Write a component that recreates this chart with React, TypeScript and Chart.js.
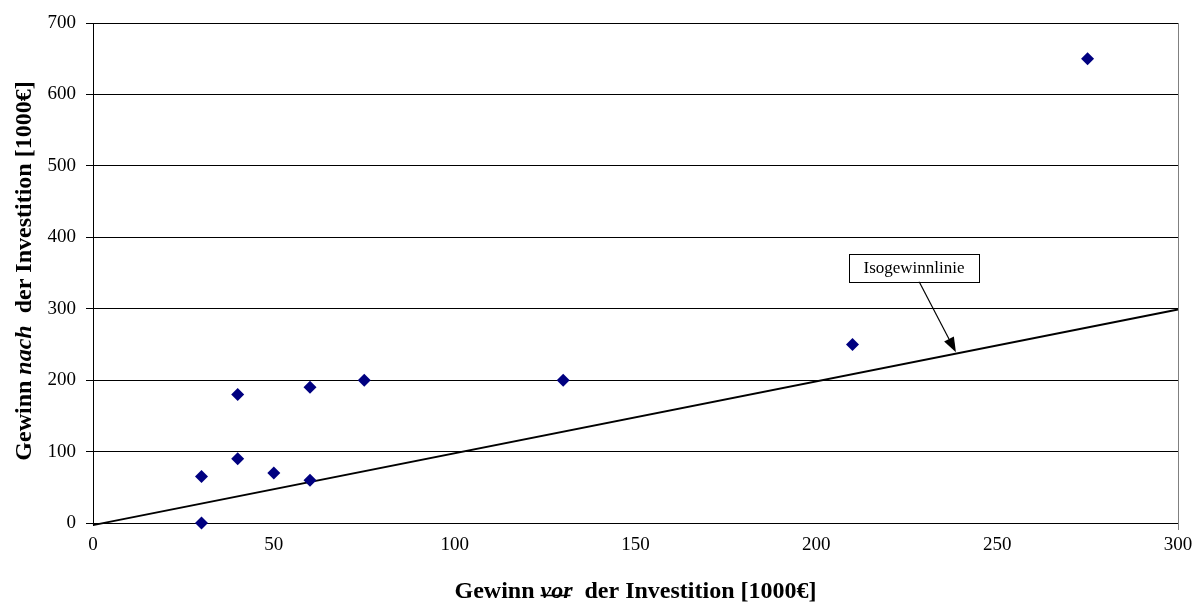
import React, { useEffect, useRef } from "react";
import { Chart, registerables } from "chart.js";

Chart.register(...registerables);

const xValues = [30, 30, 40, 40, 50, 60, 60, 75, 130, 210, 275];
const yValues = [65, 0, 180, 90, 70, 190, 60, 200, 200, 250, 650];
const isoLineX = [0, 300];
const isoLineY = [-3, 299];
const xTickValues = [0, 50, 100, 150, 200, 250, 300];
const yTickValues = [0, 100, 200, 300, 400, 500, 600, 700];
const annotationText = "Isogewinnlinie";

const W = 1196;
const H = 608;
const SERIF = '"Liberation Serif", "Times New Roman", serif';

function drawMixed(ctx: CanvasRenderingContext2D, parts: { t: string; f: string; strike?: boolean }[], cx: number, baseY: number) {
  let total = 0;
  const widths = parts.map((p) => {
    ctx.font = p.f;
    const w = ctx.measureText(p.t).width;
    total += w;
    return w;
  });
  let x = cx - total / 2;
  ctx.textBaseline = "alphabetic";
  ctx.textAlign = "left";
  parts.forEach((p, i) => {
    ctx.font = p.f;
    ctx.fillStyle = "#000";
    ctx.fillText(p.t, x, baseY);
    if (p.strike) {
      ctx.strokeStyle = "#000";
      ctx.lineWidth = 1.5;
      ctx.beginPath();
      ctx.moveTo(x, baseY - 2.5);
      ctx.lineTo(x + widths[i] - 2, baseY - 2.5);
      ctx.stroke();
    }
    x += widths[i];
  });
}

const customPlugin = {
  id: "custom",
  afterDraw(chart: any) {
    const ctx: CanvasRenderingContext2D = chart.ctx;
    const xs = chart.scales.x;
    const ys = chart.scales.y;
    const area = chart.chartArea;
    ctx.save();
    // right border gray
    ctx.strokeStyle = "#808080";
    ctx.lineWidth = 1;
    ctx.beginPath();
    ctx.moveTo(Math.round(area.right) + 0.5, area.top);
    ctx.lineTo(Math.round(area.right) + 0.5, area.bottom + 7);
    ctx.stroke();
    // y axis slight extension below
    ctx.strokeStyle = "#000";
    ctx.beginPath();
    ctx.moveTo(Math.round(area.left) + 0.5, area.bottom);
    ctx.lineTo(Math.round(area.left) + 0.5, area.bottom + 3);
    ctx.stroke();

    // annotation
    const bx1 = xs.getPixelForValue(209);
    const bx2 = xs.getPixelForValue(245);
    const by1 = ys.getPixelForValue(377);
    const by2 = ys.getPixelForValue(338);
    const ax1 = xs.getPixelForValue(228.4);
    const ay1 = by2;
    const ax2 = xs.getPixelForValue(238.6);
    const ay2 = ys.getPixelForValue(239);
    ctx.strokeStyle = "#000";
    ctx.lineWidth = 1.2;
    const ang = Math.atan2(ay2 - ay1, ax2 - ax1);
    const headLen = 15;
    const hx = ax2 - headLen * Math.cos(ang);
    const hy = ay2 - headLen * Math.sin(ang);
    ctx.beginPath();
    ctx.moveTo(ax1, ay1);
    ctx.lineTo(hx, hy);
    ctx.stroke();
    ctx.fillStyle = "#000";
    ctx.beginPath();
    ctx.moveTo(ax2, ay2);
    ctx.lineTo(hx + 5.5 * Math.sin(ang), hy - 5.5 * Math.cos(ang));
    ctx.lineTo(hx - 5.5 * Math.sin(ang), hy + 5.5 * Math.cos(ang));
    ctx.closePath();
    ctx.fill();
    ctx.lineWidth = 1;
    ctx.fillStyle = "#fff";
    ctx.fillRect(bx1, by1, bx2 - bx1, by2 - by1);
    ctx.strokeStyle = "#000";
    ctx.strokeRect(Math.round(bx1) + 0.5, Math.round(by1) + 0.5, Math.round(bx2 - bx1), Math.round(by2 - by1));
    ctx.fillStyle = "#000";
    ctx.font = `17px ${SERIF}`;
    ctx.textAlign = "center";
    ctx.textBaseline = "middle";
    ctx.fillText(annotationText, (bx1 + bx2) / 2, (by1 + by2) / 2 + 1);

    // axis titles
    const bold = `bold 24px ${SERIF}`;
    const boldIt = `italic bold 24px ${SERIF}`;
    drawMixed(
      ctx,
      [
        { t: "Gewinn ", f: bold },
        { t: "vor", f: boldIt, strike: true },
        { t: "  der Investition [1000€]", f: bold },
      ],
      (area.left + area.right) / 2,
      598
    );
    ctx.save();
    ctx.translate(31, 271);
    ctx.rotate(-Math.PI / 2);
    drawMixed(
      ctx,
      [
        { t: "Gewinn ", f: bold },
        { t: "nach", f: boldIt },
        { t: "  der Investition [1000€]", f: bold },
      ],
      0,
      0
    );
    ctx.restore();
    ctx.restore();
  },
};

export default function App() {
  const ref = useRef<HTMLCanvasElement>(null);
  useEffect(() => {
    if (!ref.current) return;
    const chart = new Chart(ref.current, {
      type: "scatter",
      data: {
        datasets: [
          {
            label: "Isogewinnlinie",
            data: isoLineX.map((x, i) => ({ x, y: isoLineY[i] })),
            showLine: true,
            borderColor: "#000",
            borderWidth: 2,
            pointRadius: 0,
            clip: false as any,
            order: 1,
          } as any,
          {
            label: "Gewinn",
            data: xValues.map((x, i) => ({ x, y: yValues[i] })),
            pointStyle: "rectRot",
            pointRadius: 6.5,
            pointBackgroundColor: "#000080",
            pointBorderColor: "#000080",
            pointBorderWidth: 0,
            clip: false as any,
            order: 0,
          } as any,
        ],
      },
      options: {
        animation: false,
        responsive: false,
        layout: { padding: { left: 0, top: 23, right: 18, bottom: 0 } },
        plugins: { legend: { display: false }, tooltip: { enabled: false } },
        scales: {
          x: {
            type: "linear",
            min: 0,
            max: 300,
            afterBuildTicks: (s: any) => {
              s.ticks = xTickValues.map((v) => ({ value: v }));
            },
            afterFit: (s: any) => {
              s.height = 85;
              s.paddingRight = 0;
              s.paddingLeft = 0;
            },
            grid: { display: false, drawTicks: false },
            border: { display: true, color: "#000", width: 1 },
            ticks: { color: "#000", font: { family: SERIF, size: 19 }, padding: 11, maxRotation: 0 },
          },
          y: {
            type: "linear",
            min: 0,
            max: 700,
            afterBuildTicks: (s: any) => {
              s.ticks = yTickValues.map((v) => ({ value: v }));
            },
            afterFit: (s: any) => {
              s.width = 93;
              s.paddingTop = 0;
              s.paddingBottom = 0;
            },
            grid: { color: "#000", lineWidth: 1, tickLength: 7, drawTicks: true },
            border: { display: true, color: "#000", width: 1 },
            ticks: { color: "#000", font: { family: SERIF, size: 19 }, padding: 10 },
          },
        },
      },
      plugins: [customPlugin],
    });
    return () => chart.destroy();
  }, []);
  return (
    <div style={{ position: "fixed", left: 0, top: 0, width: W, height: H, background: "#fff" }}>
      <canvas ref={ref} width={W} height={H} style={{ width: W, height: H, display: "block" }} />
    </div>
  );
}
